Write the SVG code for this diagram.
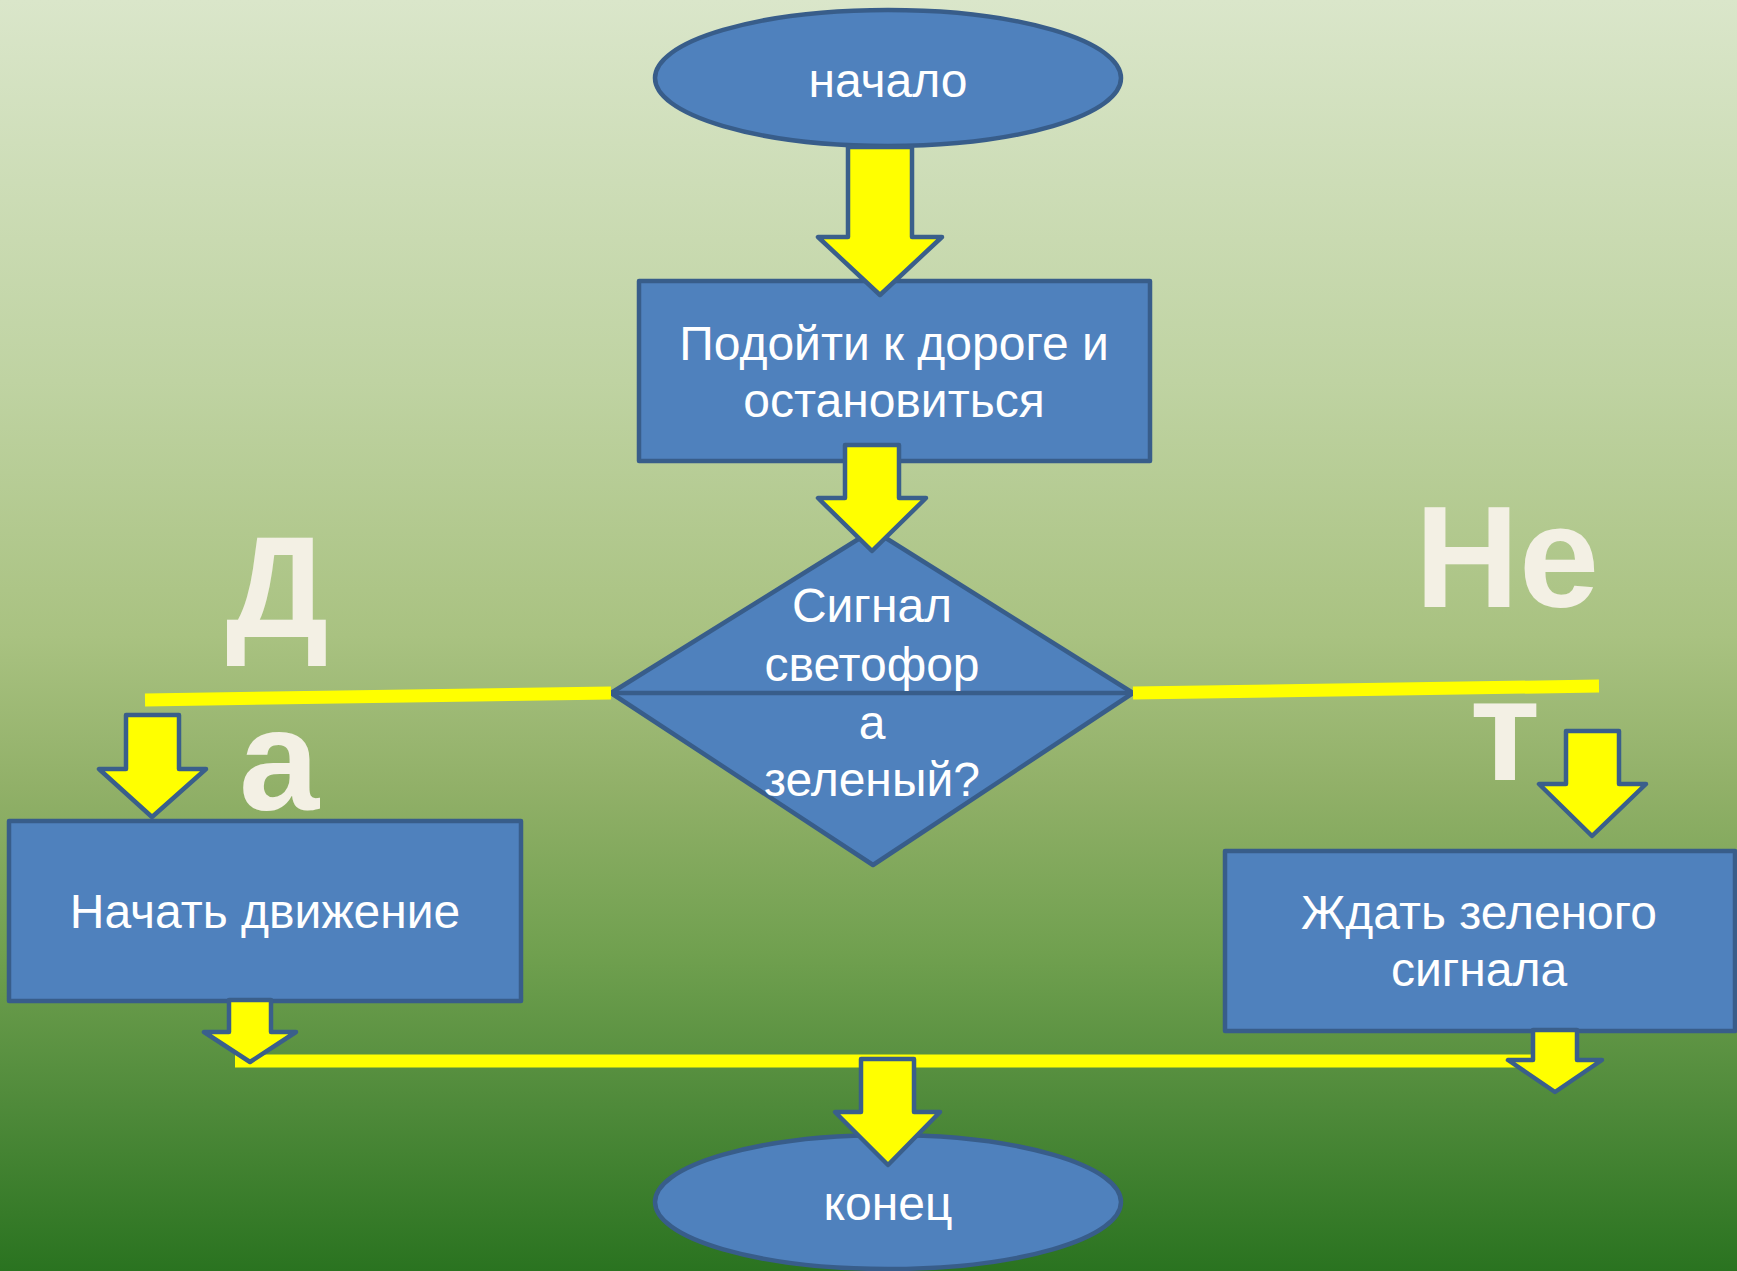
<svg xmlns="http://www.w3.org/2000/svg" width="1737" height="1271" viewBox="0 0 1737 1271">
<defs>
<linearGradient id="bg" x1="0" y1="0" x2="0" y2="1">
<stop offset="0" stop-color="#DAE6CA"/>
<stop offset="0.3" stop-color="#BFD3A2"/>
<stop offset="0.5" stop-color="#A9C281"/>
<stop offset="0.62" stop-color="#91B068"/>
<stop offset="0.75" stop-color="#70A04F"/>
<stop offset="0.87" stop-color="#4F8A3A"/>
<stop offset="1" stop-color="#2A7320"/>
</linearGradient>
</defs>
<style>
.node{fill:#4F81BD;stroke:#385D8A;stroke-width:4.5;stroke-linejoin:round}
.lbl{font-family:"Liberation Sans",Arial,sans-serif;font-size:48px;fill:#FFFFFF;text-anchor:middle}
.big{font-family:"Liberation Sans",Arial,sans-serif;font-size:144px;font-weight:bold;fill:#F3F0E4;text-anchor:middle}
.arrow{fill:#FFFF00;stroke:#3A5F8B;stroke-width:4.5;stroke-linejoin:round}
.line{fill:none;stroke:#FFFF00;stroke-width:13}
</style>
<rect x="0" y="0" width="1737" height="1271" fill="url(#bg)"/>

<g id="start">
<ellipse class="node" cx="888" cy="78" rx="233" ry="68"/>
<text class="lbl" x="888" y="97">начало</text>
</g>
<g id="approach">
<rect class="node" x="639" y="281" width="511" height="180"/>
<text class="lbl" x="894" y="360">Подойти к дороге и</text>
<text class="lbl" x="894" y="417">остановиться</text>
</g>
<g id="decision">
<polygon class="node" points="873,530 1133,693 873,865 611,693"/>
<line x1="611" y1="693" x2="1133" y2="693" stroke="#385D8A" stroke-width="4.5"/>
<text class="lbl" x="872" y="622">Сигнал</text>
<text class="lbl" x="872" y="681">светофор</text>
<text class="lbl" x="872" y="739">а</text>
<text class="lbl" x="872" y="796">зеленый?</text>
</g>
<g id="go">
<rect class="node" x="9" y="821" width="512" height="180"/>
<text class="lbl" x="265" y="928">Начать движение</text>
</g>
<g id="wait">
<rect class="node" x="1225" y="851" width="510" height="180"/>
<text class="lbl" x="1479" y="929">Ждать зеленого</text>
<text class="lbl" x="1479" y="986">сигнала</text>
</g>
<g id="end">
<ellipse class="node" cx="888" cy="1202" rx="233" ry="67"/>
<text class="lbl" x="888" y="1220">конец</text>
</g>
<g id="yes-label">
<text class="big" x="277" y="637">Д</text>
<text class="big" x="279" y="810">а</text>
</g>
<g id="no-label">
<text class="big" x="1507" y="607">Не</text>
<text class="big" x="1505" y="780">т</text>
</g>

<g id="connectors">
<polyline class="line" points="145,700 611,693"/>
<polyline class="line" points="1133,693 1599,686"/>
<polyline class="line" points="235,1061 1545,1061"/>
<path class="arrow" d="M848,147 H912 V237 H942 L880,295 L818,237 H848 Z"/>
<path class="arrow" d="M845,445 H899 V498 H926 L872,551 L818,498 H845 Z"/>
<path class="arrow" d="M126,715 H179 V769 H206 L152,817 L99,769 H126 Z"/>
<path class="arrow" d="M1566,731 H1619 V784 H1646 L1592,836 L1539,784 H1566 Z"/>
<path class="arrow" d="M229,1000 H271 V1032 H296 L250,1062 L204,1032 H229 Z"/>
<path class="arrow" d="M1533,1030 H1577 V1060 H1602 L1555,1092 L1508,1060 H1533 Z"/>
<path class="arrow" d="M861,1059 H914 V1112 H940 L888,1165 L835,1112 H861 Z"/>
</g>
</svg>
